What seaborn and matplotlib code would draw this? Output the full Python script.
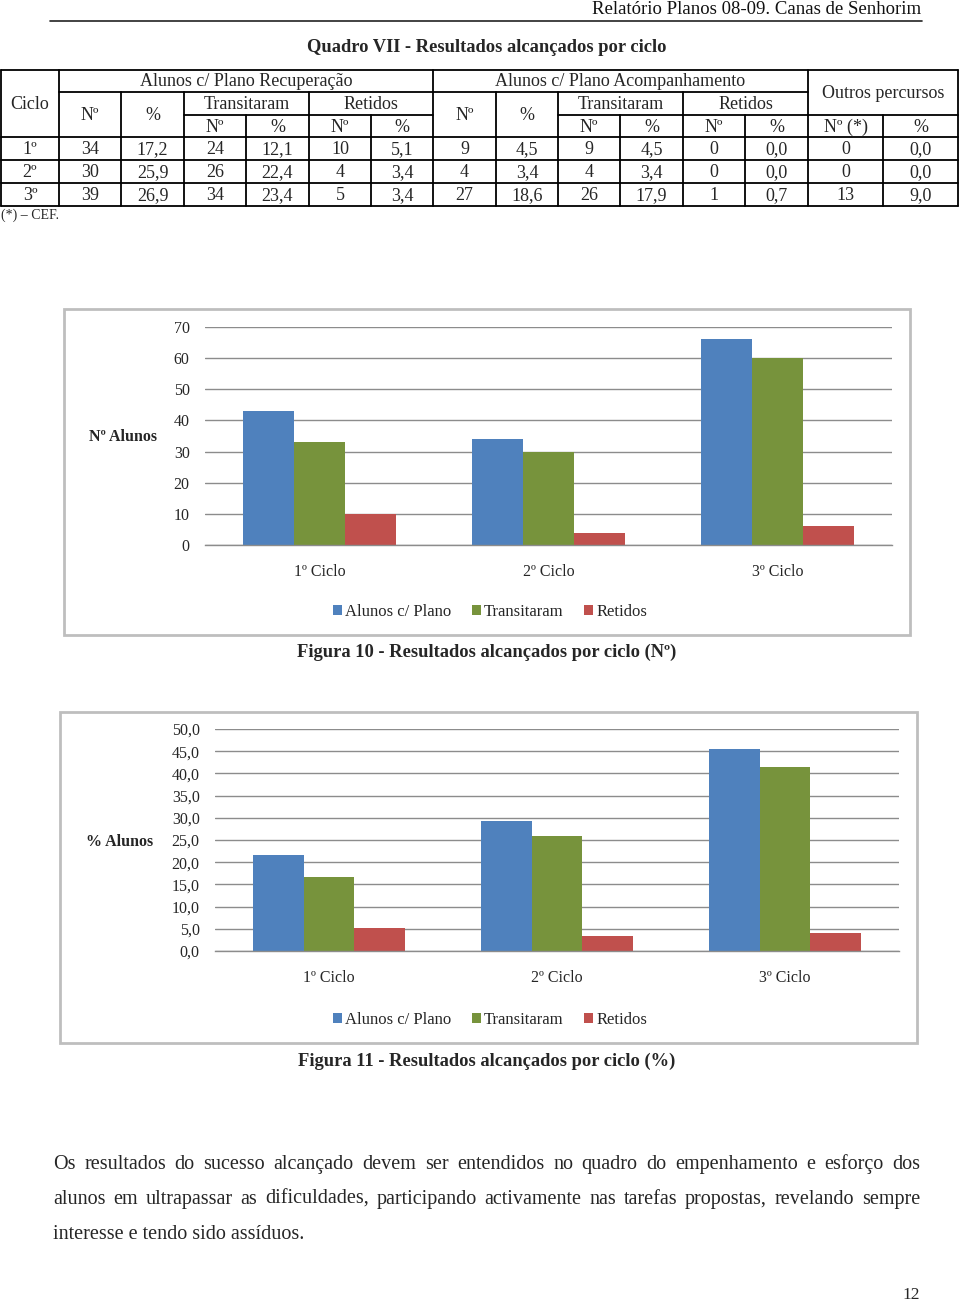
import matplotlib
matplotlib.use("Agg")
import matplotlib.pyplot as plt
from matplotlib.patches import Rectangle, Patch
import pandas as pd
import seaborn as sns

# ---------------- data ----------------
header_text = "Relatório Planos 08-09. Canas de Senhorim"
table_title = "Quadro VII - Resultados alcançados por ciclo"
ciclos_tab = ["1º", "2º", "3º"]
rec_n = [34, 30, 39]
rec_pct = [17.2, 25.9, 26.9]
rec_trans_n = [24, 26, 34]
rec_trans_pct = [12.1, 22.4, 23.4]
rec_ret_n = [10, 4, 5]
rec_ret_pct = [5.1, 3.4, 3.4]
acp_n = [9, 4, 27]
acp_pct = [4.5, 3.4, 18.6]
acp_trans_n = [9, 4, 26]
acp_trans_pct = [4.5, 3.4, 17.9]
acp_ret_n = [0, 0, 1]
acp_ret_pct = [0.0, 0.0, 0.7]
outros_n = [0, 0, 13]
outros_pct = [0.0, 0.0, 9.0]

categories = ["1º Ciclo", "2º Ciclo", "3º Ciclo"]
series = ["Alunos c/ Plano", "Transitaram", "Retidos"]
plano_n = [43, 34, 66]
trans_n = [33, 30, 60]
retidos_n = [10, 4, 6]
plano_pct = [21.7, 29.3, 45.5]
trans_pct = [16.7, 25.9, 41.4]
retidos_pct = [5.1, 3.4, 4.1]
yticks_n = [0, 10, 20, 30, 40, 50, 60, 70]
yticks_pct = [0, 5, 10, 15, 20, 25, 30, 35, 40, 45, 50]

caption1 = "Figura 10 - Resultados alcançados por ciclo (Nº)"
caption2 = "Figura 11 - Resultados alcançados por ciclo (%)"
paragraph = [
    "Os resultados do sucesso alcançado devem ser entendidos no quadro do empenhamento e esforço dos",
    "alunos em ultrapassar as dificuldades, participando activamente nas tarefas propostas, revelando sempre",
    "interesse e tendo sido assíduos.",
]
page_no = "12"

colors = ["#4F81BD", "#77933C", "#C0504D"]
SERIF = "Liberation Serif"

sns.set_theme(style="white")
plt.rcParams["font.family"] = [SERIF, "DejaVu Serif"]

W, H = 960, 1304
fig = plt.figure(figsize=(W / 100, H / 100), dpi=100)
bg = fig.add_axes([0, 0, 1, 1])
bg.set_xlim(0, W)
bg.set_ylim(H, 0)
bg.axis("off")


def fmt(v):
    if isinstance(v, float):
        return f"{v:.1f}".replace(".", ",")
    return str(v)


# ---------------- header ----------------
bg.text(921, 9, header_text, ha="right", va="center", fontsize=13.5, color="#111")
bg.plot([50, 922], [21, 21], color="#222", lw=1.2)
bg.text(487, 48, table_title, ha="center", va="center", fontsize=13.3, fontweight="bold")

# ---------------- table ----------------
xs = [1, 59, 121, 184, 246, 309, 371, 433, 496, 558, 620, 683, 745, 808, 883, 958]
ys = [70, 92, 115, 137, 160, 183, 206]
lw = 1.3
k = "black"
for y in [70, 137, 160, 183, 206]:
    bg.plot([xs[0], xs[-1]], [y, y], color=k, lw=lw)
bg.plot([xs[1], xs[13]], [92, 92], color=k, lw=lw)
for a, b in [(3, 7), (9, 13), (13, 15)]:
    bg.plot([xs[a], xs[b]], [115, 115], color=k, lw=lw)
vspec = {0: 70, 1: 70, 2: 92, 3: 92, 4: 115, 5: 92, 6: 115, 7: 70, 8: 92,
         9: 92, 10: 115, 11: 92, 12: 115, 13: 70, 14: 115, 15: 70}
for i, y0 in vspec.items():
    bg.plot([xs[i], xs[i]], [y0, 206], color=k, lw=lw)

tfs = 13


def cell(c0, c1, r0, r1, s):
    bg.text((xs[c0] + xs[c1]) / 2, (ys[r0] + ys[r1]) / 2 + 1, s, ha="center",
            va="center", fontsize=tfs)


cell(0, 1, 0, 3, "Ciclo")
cell(1, 7, 0, 1, "Alunos c/ Plano Recuperação")
cell(7, 13, 0, 1, "Alunos c/ Plano Acompanhamento")
cell(13, 15, 0, 2, "Outros percursos")
for base in (1, 7):
    cell(base, base + 1, 1, 3, "Nº")
    cell(base + 1, base + 2, 1, 3, "%")
    cell(base + 2, base + 4, 1, 2, "Transitaram")
    cell(base + 4, base + 6, 1, 2, "Retidos")
    for j, s in enumerate(["Nº", "%", "Nº", "%"]):
        cell(base + 2 + j, base + 3 + j, 2, 3, s)
cell(13, 14, 2, 3, "Nº (*)")
cell(14, 15, 2, 3, "%")

cols = [rec_n, rec_pct, rec_trans_n, rec_trans_pct, rec_ret_n, rec_ret_pct,
        acp_n, acp_pct, acp_trans_n, acp_trans_pct, acp_ret_n, acp_ret_pct,
        outros_n, outros_pct]
for r in range(3):
    cell(0, 1, 3 + r, 4 + r, ciclos_tab[r])
    for c, col in enumerate(cols):
        cell(c + 1, c + 2, 3 + r, 4 + r, fmt(col[r]))
bg.text(1, 215, "(*) – CEF.", ha="left", va="center", fontsize=10)


# ---------------- charts ----------------
def make_chart(box, axpos, vals, yticks, ylim, ylabel, ylab_xy, legend_y, decimals, ypad):
    x0, y0, x1, y1 = box
    bg.add_patch(Rectangle((x0, y0), x1 - x0, y1 - y0, fill=False,
                           edgecolor="#BEBEBE", lw=2))
    l, t, r, b = axpos
    ax = fig.add_axes([l / W, 1 - b / H, (r - l) / W, (b - t) / H])
    df = pd.DataFrame({
        "cat": categories * 3,
        "serie": [s for s in series for _ in categories],
        "val": vals[0] + vals[1] + vals[2],
    })
    sns.barplot(data=df, x="cat", y="val", hue="serie", order=categories,
                hue_order=series, palette=colors, width=0.67, linewidth=0,
                saturation=1, ax=ax, legend=False, errorbar=None)
    ax.set_facecolor("none")
    ax.set_ylim(*ylim)
    ax.set_xlim(-0.5, 2.5)
    ax.set_yticks(yticks)
    if decimals:
        ax.set_yticklabels([f"{v:.1f}".replace(".", ",") for v in yticks])
    else:
        ax.set_yticklabels([str(v) for v in yticks])
    ax.set_xlabel("")
    ax.set_ylabel("")
    ax.yaxis.grid(True, color="#8C8C8C", lw=1)
    ax.set_axisbelow(True)
    for s in ["top", "right", "left"]:
        ax.spines[s].set_visible(False)
    ax.spines["bottom"].set_color("#8C8C8C")
    ax.spines["bottom"].set_linewidth(1)
    ax.tick_params(axis="y", length=5, color="#8C8C8C", labelsize=11.5, pad=ypad)
    ax.tick_params(axis="x", length=0, labelsize=11.5, pad=14)
    ax.set_xticks([-0.5, 0.5, 1.5, 2.5], minor=True)
    ax.tick_params(axis="x", which="minor", length=6, color="#8C8C8C")
    for lab in ax.get_xticklabels() + ax.get_yticklabels():
        lab.set_fontfamily(SERIF)
    bg.text(ylab_xy[0], ylab_xy[1], ylabel, ha="center", va="center",
            fontsize=11.5, fontweight="bold")
    handles = [Patch(facecolor=c, edgecolor="none", label=s) for c, s in zip(colors, series)]
    fig.legend(handles=handles, loc="center", bbox_to_anchor=(490 / W, 1 - legend_y / H),
               ncol=3, frameon=False, fontsize=12, handlelength=0.55,
               handleheight=0.55, handletextpad=0.2, columnspacing=1.2)
    return ax


make_chart((64, 309, 910, 635), (205, 327, 892, 545),
           [plano_n, trans_n, retidos_n], yticks_n, (0, 70), "Nº Alunos",
           (123, 437), 612, False, 6)
bg.text(487, 652, caption1, ha="center", va="center", fontsize=13.3, fontweight="bold")

make_chart((60, 712, 917, 1043), (215, 729, 899, 951),
           [plano_pct, trans_pct, retidos_pct], yticks_pct, (0, 50), "% Alunos",
           (120, 842), 1020, True, 6)
bg.text(487, 1061, caption2, ha="center", va="center", fontsize=13.3, fontweight="bold")

# ---------------- paragraph (justified) ----------------
renderer = fig.canvas.get_renderer()
pfs = 14.5
left, right = 53, 920
line_ys = [1169, 1204, 1239]
for li, (line, ly) in enumerate(zip(paragraph, line_ys)):
    words = line.split(" ")
    if li < len(paragraph) - 1:
        texts = [bg.text(0, ly, w, ha="left", va="baseline", fontsize=pfs) for w in words]
        widths = [t.get_window_extent(renderer).width for t in texts]
        gap = (right - left - sum(widths)) / (len(words) - 1)
        x = left
        for t, w in zip(texts, widths):
            t.set_x(x)
            x += w + gap
    else:
        bg.text(left, ly, line, ha="left", va="baseline", fontsize=pfs)

bg.text(911, 1295, page_no, ha="center", va="center", fontsize=12.5)

fig.savefig("out.png", dpi=100)
